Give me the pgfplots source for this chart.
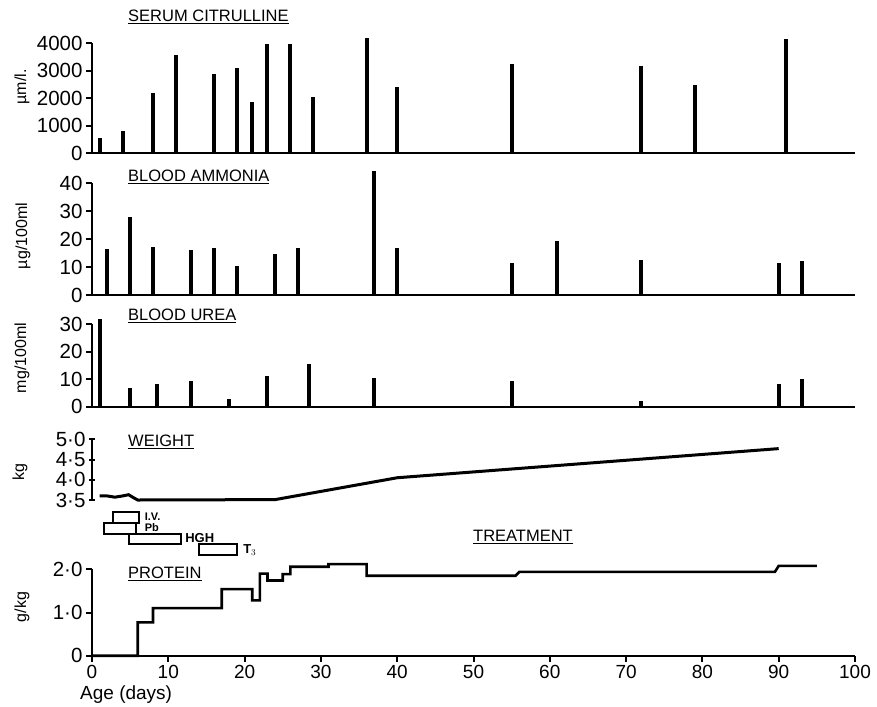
\documentclass[border=0pt]{standalone}
\usepackage{pgfplots}
\pgfplotsset{compat=1.18}
\usepackage{fontspec}
\setmainfont{Liberation Sans}
\newcommand{\ttl}[1]{\fontsize{16.5}{18}\selectfont\underline{#1}}
\pgfplotsset{
  panel/.style={
    scale only axis, width=763pt, xmin=0, xmax=100,
    axis lines=left, axis line style={-, line width=2.4pt, black},
    xtick=\empty, clip=false,
    tick align=outside, major tick length=6pt,
    tick style={line width=2pt, black},
    every tick label/.append style={font=\fontsize{20.5}{21}\selectfont},
    anchor=south west,
  },
  bars/.style={ycomb, line width=4pt, black, no marks},
}
\begin{document}
\begin{tikzpicture}
\path[use as bounding box] (0pt,0pt) rectangle (877pt,-706pt);

% Serum citrulline
\begin{axis}[panel, at={(92pt,-153pt)}, height=110pt, ymin=0, ymax=4000,
  ytick={0,1000,2000,3000,4000}, yticklabels={0,1000,2000,3000,4000}]
\addplot[bars] coordinates {(1,530)(4,800)(8,2180)(11,3550)(16,2860)(19,3100)(21,1860)(23,3980)(26,3980)(29,2040)(36,4200)(40,2400)(55,3250)(72,3180)(79,2480)(91,4150)};
\end{axis}

% Blood ammonia
\begin{axis}[panel, at={(92pt,-295pt)}, height=111.7pt, ymin=0, ymax=40,
  ytick={0,10,20,30,40}, yticklabels={0,10,20,30,40}]
\addplot[bars] coordinates {(2,16.5)(5,28)(8,17.3)(13,16.1)(16,16.7)(19,10.4)(24,14.8)(27,17)(37,44.5)(40,16.7)(55,11.5)(61,19.5)(72,12.7)(90,11.3)(93,12.2)};
\end{axis}

% Blood urea
\begin{axis}[panel, at={(92pt,-406.7pt)}, height=82.5pt, ymin=0, ymax=30,
  ytick={0,10,20,30}, yticklabels={0,10,20,30}]
\addplot[bars] coordinates {(1,32)(5,6.7)(8.5,8.4)(13,9.3)(18,2.9)(23,11)(28.5,15.4)(37,10.3)(55,9.3)(72,2)(90,8.3)(93,10.2)};
\end{axis}

% Weight
\begin{axis}[panel, at={(92pt,-500pt)}, height=60.7pt, ymin=3.5, ymax=5,
  axis x line=none, axis y line=left,
  y axis line style={-, line width=2.4pt, black},
  ytick={3.5,4,4.5,5}, yticklabels={3·5,4·0,4·5,5·0}]
\addplot[line width=3pt, black, no marks] coordinates {(1,3.6)(2,3.6)(3,3.57)(4,3.6)(4.8,3.63)(5.5,3.55)(6,3.5)(24,3.51)(40,4.05)(90,4.77)};
\end{axis}

% Treatment
\begin{axis}[scale only axis, width=763pt, height=42.7pt, xmin=0, xmax=100, ymin=0, ymax=4,
  hide axis, clip=false, anchor=south west, at={(92pt,-555pt)}]
\addplot[line width=2pt, black, no marks] coordinates {(2.8,3)(6.2,3)(6.2,4)(2.8,4)} --cycle;
\addplot[line width=2pt, black, no marks] coordinates {(1.6,2)(5.8,2)(5.8,3)(1.6,3)} --cycle;
\addplot[line width=2pt, black, no marks] coordinates {(4.9,1)(11.7,1)(11.7,2)(4.9,2)} --cycle;
\addplot[line width=2pt, black, no marks] coordinates {(14,0)(19,0)(19,1)(14,1)} --cycle;
\node[anchor=west, inner sep=0pt, font=\fontsize{11}{12}\selectfont\bfseries] at (axis cs:6.9,3.55) {I.V.};
\node[anchor=west, inner sep=0pt, font=\fontsize{11}{12}\selectfont\bfseries] at (axis cs:6.9,2.55) {Pb};
\node[anchor=west, inner sep=0pt, font=\fontsize{13}{14}\selectfont\bfseries] at (axis cs:12.2,1.6) {HGH};
\node[anchor=west, inner sep=0pt, font=\fontsize{13}{14}\selectfont\bfseries] at (axis cs:19.8,0.45) {T$_3$};
\end{axis}

% Protein
\begin{axis}[panel, at={(92pt,-655.7pt)}, height=86.4pt, ymin=0, ymax=2,
  ytick={0,1,2}, yticklabels={0,1·0,2·0},
  xtick={0,10,20,30,40,50,60,70,80,90,100},
  xticklabels={0,10,20,30,40,50,60,70,80,90,100},
  xticklabel style={font=\fontsize{19}{19}\selectfont, inner sep=0pt, yshift=-3pt}]
\addplot[line width=2.6pt, black, no marks] coordinates {(0,0)(6,0)(6,0.77)(8,0.77)(8,1.1)(17,1.1)(17,1.54)(21,1.54)(21,1.28)(22,1.28)(22,1.9)(23,1.9)(23,1.74)(25,1.74)(25,1.89)(26,1.89)(26,2.06)(31,2.06)(31,2.12)(36,2.12)(36,1.85)(55.5,1.85)(56,1.94)(89.5,1.94)(90,2.08)(95,2.08)};
\end{axis}

% Titles
\node[anchor=base west, inner sep=0pt] at (128pt,-21.7pt) {\ttl{SERUM CITRULLINE}};
\node[anchor=base west, inner sep=0pt] at (128pt,-181.5pt) {\ttl{BLOOD AMMONIA}};
\node[anchor=base west, inner sep=0pt] at (128pt,-320.7pt) {\ttl{BLOOD UREA}};
\node[anchor=base west, inner sep=0pt] at (128pt,-446.7pt) {\ttl{WEIGHT}};
\node[anchor=base west, inner sep=0pt] at (473pt,-541.7pt) {\ttl{TREATMENT}};
\node[anchor=base west, inner sep=0pt] at (128pt,-578.3pt) {\ttl{PROTEIN}};

% Y labels
\node[rotate=90, inner sep=0pt, font=\fontsize{16}{17}\selectfont] at (22pt,-87pt) {µm/l.};
\node[rotate=90, inner sep=0pt, font=\fontsize{16}{17}\selectfont] at (23pt,-236pt) {µg/100ml};
\node[rotate=90, inner sep=0pt, font=\fontsize{16}{17}\selectfont] at (22pt,-358pt) {mg/100ml};
\node[rotate=90, inner sep=0pt, font=\fontsize{16}{17}\selectfont] at (20pt,-472pt) {kg};
\node[rotate=90, inner sep=0pt, font=\fontsize{16}{17}\selectfont] at (22pt,-607pt) {g/kg};

% X label
\node[anchor=base west, inner sep=0pt, font=\fontsize{19}{21}\selectfont] at (80pt,-699pt) {Age (days)};
\end{tikzpicture}
\end{document}
